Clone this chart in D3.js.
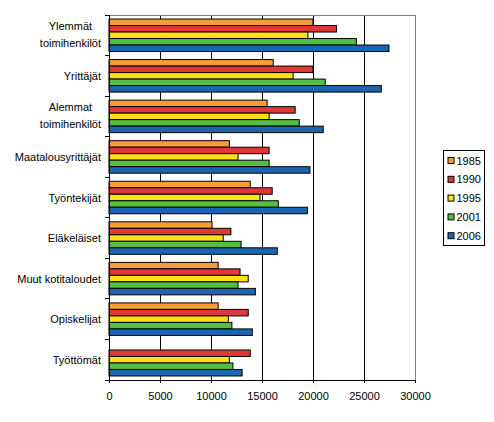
<!DOCTYPE html>
<html>
<head>
<meta charset="utf-8">
<script src="https://cdn.jsdelivr.net/npm/d3@7"></script>
<style>
  body { margin: 0; background: #fff; }
  text { font-family: "Liberation Sans", Arial, sans-serif; font-size: 11px; fill: #000; }
</style>
</head>
<body>
<svg id="chart" width="494" height="422"></svg>
<script>
// Categories, top to bottom (two-line labels split with \n)
const categories = [
    "Ylemmät\ntoimihenkilöt",
    "Yrittäjät",
    "Alemmat\ntoimihenkilöt",
    "Maatalousyrittäjät",
    "Työntekijät",
    "Eläkeläiset",
    "Muut kotitaloudet",
    "Opiskelijat",
    "Työttömät"
];
const years = ["1985", "1990", "1995", "2001", "2006"];
const yearColors = ["#F59E35", "#DF3838", "#FFE014", "#55BE45", "#1C66B0"];

// values per year, in category order
const v1985 = [20000, 16100, 15500, 11800, 13850, 10100, 10700, 10700, null];
const v1990 = [22300, 20000, 18250, 15700, 16000, 11950, 12850, 13650, 13850];
const v1995 = [19500, 18050, 15700, 12650, 14800, 11200, 13650, 11700, 11800];
const v2001 = [24250, 21200, 18650, 15700, 16600, 12950, 12650, 12050, 12150];
const v2006 = [27450, 26700, 21000, 19700, 19450, 16500, 14350, 14050, 13050];
const xTicks = [0, 5000, 10000, 15000, 20000, 25000, 30000];

const series = [v1985, v1990, v1995, v2001, v2006];

const svg = d3.select("#chart");
const margin = { top: 15, left: 109, plotRight: 415, bottom: 380 };

const x = d3.scaleLinear().domain([0, 30000]).range([margin.left, margin.plotRight]);
const y = d3.scaleBand().domain(categories).range([margin.top, margin.bottom]);

// bars take 5 slots, rest of the band is gap
const barH = 6.5;
const inner = d3.scaleBand().domain(years)
    .range([0, barH * years.length]);
const groupOffset = (y.bandwidth() - barH * years.length) / 2;

// gridlines
svg.append("g")
    .selectAll("line")
    .data(xTicks.filter(t => t > 0 && t < 30000))
    .enter().append("line")
    .attr("x1", d => x(d)).attr("x2", d => x(d))
    .attr("y1", margin.top).attr("y2", margin.bottom)
    .attr("stroke", "#000")
    .attr("shape-rendering", "crispEdges");

// plot frame (top and right in gray)
svg.append("path")
    .attr("d", `M${margin.left},${margin.top}H${margin.plotRight}V${margin.bottom}`)
    .attr("fill", "none")
    .attr("stroke", "#808080")
    .attr("shape-rendering", "crispEdges");

// bars
years.forEach((yr, i) => {
    svg.append("g")
        .selectAll("rect")
        .data(categories.map((c, j) => ({ c, v: series[i][j] })).filter(d => d.v !== null))
        .enter().append("rect")
        .attr("x", x(0))
        .attr("y", d => y(d.c) + groupOffset + inner(yr))
        .attr("width", d => x(d.v) - x(0))
        .attr("height", inner.bandwidth())
        .attr("fill", yearColors[i])
        .attr("stroke", "#000")
        .attr("stroke-width", 1);
});

// y axis: ticks at category boundaries
const yAxis = svg.append("g");
yAxis.append("line")
    .attr("x1", margin.left).attr("x2", margin.left)
    .attr("y1", margin.top).attr("y2", margin.bottom)
    .attr("stroke", "#000").attr("shape-rendering", "crispEdges");
yAxis.selectAll(".ytick")
    .data(d3.range(categories.length + 1))
    .enter().append("line")
    .attr("x1", margin.left - 4).attr("x2", margin.left)
    .attr("y1", d => margin.top + d * y.step())
    .attr("y2", d => margin.top + d * y.step())
    .attr("stroke", "#000").attr("shape-rendering", "crispEdges");

// category labels
categories.forEach(c => {
    const lines = c.split("\n");
    const cy = y(c) + y.bandwidth() / 2;
    const t = svg.append("text").attr("text-anchor", "middle");
    lines.forEach((ln, k) => {
        t.append("tspan").text(ln);
    });
    // widest line decides where the centred block sits
    let maxW = 0;
    t.selectAll("tspan").each(function () {
        maxW = Math.max(maxW, this.getComputedTextLength());
    });
    const cx = 101 - maxW / 2;
    t.selectAll("tspan")
        .attr("x", cx)
        .attr("y", (d, k) => lines.length === 1 ? cy + 4 : cy - 5 + k * 16.5);
});

// x axis
const xAxis = svg.append("g")
    .attr("transform", `translate(0,${margin.bottom})`)
    .call(d3.axisBottom(x).tickValues(xTicks).tickSize(3).tickFormat(d3.format("d")));
xAxis.select(".domain").attr("stroke", "#000").attr("d", `M${margin.left},0.5H${margin.plotRight}`);
xAxis.selectAll(".tick line").attr("stroke", "#000");
xAxis.selectAll(".tick text")
    .attr("y", 19.5)
    .attr("dy", 0)
    .style("font-family", '"Liberation Sans", Arial, sans-serif')
    .style("font-size", "11px")
    .attr("fill", "#000");
xAxis.attr("font-size", null).attr("font-family", null);

// legend
const legend = svg.append("g").attr("transform", "translate(443.5,150.5)");
legend.append("rect")
    .attr("width", 41).attr("height", 95)
    .attr("fill", "#fff").attr("stroke", "#000");
years.forEach((yr, i) => {
    const ly = 10 + i * 18.8;
    legend.append("rect")
        .attr("x", 4.5).attr("y", ly - 3)
        .attr("width", 6).attr("height", 6)
        .attr("fill", yearColors[i]).attr("stroke", "#000");
    legend.append("text")
        .attr("x", 13).attr("y", ly + 4)
        .text(yr);
});
</script>
</body>
</html>
